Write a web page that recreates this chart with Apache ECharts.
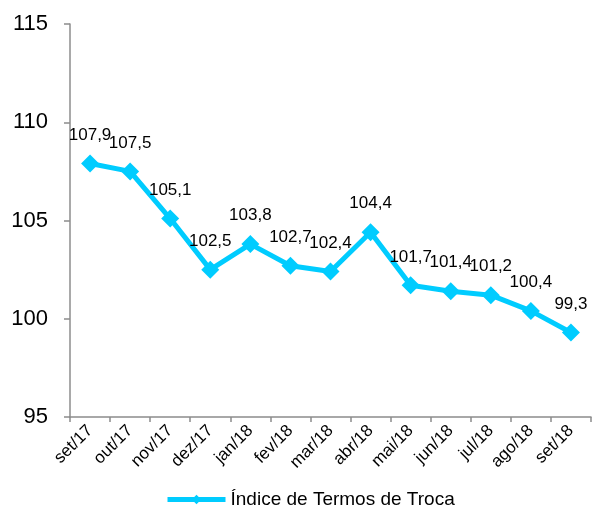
<!DOCTYPE html>
<html lang="pt">
<head>
<meta charset="UTF-8">
<title>Índice de Termos de Troca</title>
<script src="https://cdn.jsdelivr.net/npm/echarts@6/dist/echarts.min.js"></script>
<style>
  html, body { margin: 0; padding: 0; background: #fff; }
  #chart { width: 595px; height: 514px; }
</style>
</head>
<body>
<div id="chart"></div>
<script>
// dados do gráfico
const months = ['set/17', 'out/17', 'nov/17', 'dez/17', 'jan/18', 'fev/18', 'mar/18',
  'abr/18', 'mai/18', 'jun/18', 'jul/18', 'ago/18', 'set/18'];
const indexValues = [107.9, 107.5, 105.1, 102.5, 103.8, 102.7, 102.4, 104.4, 101.7, 101.4, 101.2, 100.4, 99.3];
const seriesName = 'Índice de Termos de Troca';

const chart = echarts.init(document.getElementById('chart'));
const axisGray = '#8c8c8c';
const fontFamily = 'Liberation Sans, Arial, sans-serif';

chart.setOption({
  animation: false,
  grid: { left: 70, right: 4, top: 24, bottom: 97 },
  legend: {
    bottom: 0,
    left: 160,
    itemWidth: 58,
    itemHeight: 12,
    itemGap: 6,
    lineStyle: { width: 5 },
    textStyle: { fontSize: 19, color: '#000', fontFamily },
    data: [seriesName]
  },
  xAxis: {
    type: 'category',
    data: months,
    boundaryGap: true,
    axisLine: { lineStyle: { color: axisGray, width: 1.5 } },
    axisTick: { show: true, length: 5, lineStyle: { color: axisGray, width: 1.5 } },
    axisLabel: { rotate: 45, fontSize: 17, color: '#000', fontFamily, margin: 11 }
  },
  yAxis: {
    type: 'value',
    min: 95,
    max: 115,
    interval: 5,
    splitLine: { show: false },
    axisLine: { show: true, lineStyle: { color: axisGray, width: 1.5 } },
    axisTick: { show: true, length: 6, lineStyle: { color: axisGray, width: 1.5 } },
    axisLabel: { fontSize: 22, color: '#000', fontFamily, margin: 22 }
  },
  series: [{
    name: seriesName,
    type: 'line',
    data: indexValues,
    symbol: 'diamond',
    symbolSize: 18,
    itemStyle: { color: '#00ccff' },
    lineStyle: { color: '#00ccff', width: 5 },
    label: {
      show: true,
      position: 'top',
      distance: 11,
      fontSize: 17,
      color: '#000',
      fontFamily,
      formatter: p => p.value.toFixed(1).replace('.', ',')
    }
  }]
});
</script>
</body>
</html>
